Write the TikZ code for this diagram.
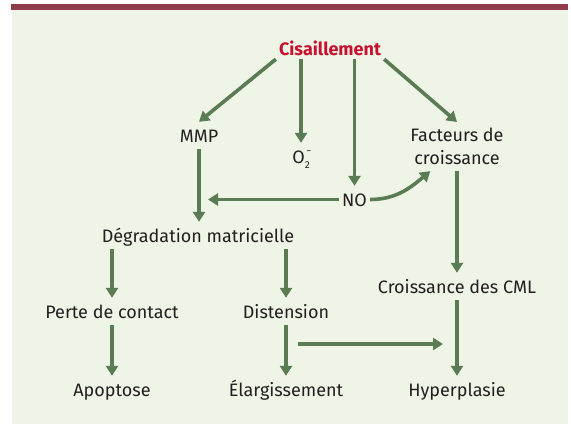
\documentclass[tikz,border=0pt]{standalone}
\usepackage{fontspec}
\setmainfont{Fira Sans}
\usetikzlibrary{arrows.meta}
\definecolor{arrowgreen}{HTML}{5B7B55}
\definecolor{panelgreen}{HTML}{EEF4E6}
\definecolor{barred}{HTML}{8E3B4B}
\definecolor{titlered}{HTML}{C8102E}
\definecolor{textgray}{HTML}{231F20}
\pgfdeclarelayer{bg}
\pgfsetlayers{bg,main}
\tikzset{
    every node/.style={text=textgray, font=\fontsize{18}{23}\selectfont}
}
\tikzset{lbl/.style={anchor=base, inner xsep=3pt, inner ysep=7pt, text height=13pt, text depth=0pt}}
\tikzset{arr/.style={draw=arrowgreen, line width=3.6pt, -{Triangle[length=10pt, width=12pt]}}}

\begin{document}
\begin{tikzpicture}[x=1pt, y=-1pt]
        \useasboundingbox (0,0) rectangle (571,424);
        \node (cis) [lbl, inner ysep=4pt, text=titlered, font=\fontsize{18}{23}\selectfont\bfseries] at (330,55) {Cisaillement};
        \node (mmp) [lbl] at (199,142) {MMP};
        \node (otwo) [lbl] at (301,163) {O\makebox[0pt][l]{\raisebox{9pt}{\fontsize{10}{10}\selectfont\,−}}\raisebox{-5pt}{\fontsize{10}{10}\selectfont 2}};
        \node (no) [lbl] at (354.5,206) {NO};
        \node (fac) [anchor=north, align=center, inner xsep=0pt, inner ysep=6pt] at (457,122) {Facteurs de\\croissance};
        \node (deg) [lbl] at (198,242) {Dégradation matricielle};
        \node (perte) [lbl] at (112,318) {Perte de contact};
        \node (dist) [lbl] at (286,318) {Distension};
        \node (cml) [lbl] at (457,293) {Croissance des CML};
        \node (apo) [lbl] at (112,396) {Apoptose};
        \node (elarg) [lbl] at (286,396) {Élargissement};
        \node (hyp) [lbl] at (457,396) {Hyperplasie};
        \coordinate (noend) at (208,199.5);
        \coordinate (dj) at (298,344);
        \coordinate (hj) at (443,344);
        \begin{pgfonlayer}{bg}
                \fill [panelgreen] (12,10) rectangle (568,424);
                \fill [barred] (11,4) rectangle (568,10);
        \end{pgfonlayer}
        \draw (cis.south west) edge [arr] (mmp.north);
        \draw (cis.south -| otwo.north) edge [arr] (otwo.north);
        \draw (cis.south -| no.north) edge [arr] (no.north);
        \draw (cis.south east) edge [arr] (fac.north);
        \draw (mmp) edge [arr] (deg.north -| mmp.south);
        \draw (no) edge [arr] (noend);
        \draw (no.east) edge [arr, out=0, in=-140] ([xshift=20pt]fac.south west);
        \draw (fac) edge [arr] (cml);
        \draw (deg.south -| perte.north) edge [arr] (perte);
        \draw (deg.south -| dist.north) edge [arr] (dist);
        \draw (perte) edge [arr] (apo);
        \draw (dist) edge [arr] (elarg);
        \draw (cml) edge [arr] (hyp);
        \draw (dj) edge [arr] (hj);
\end{tikzpicture}
\end{document}
